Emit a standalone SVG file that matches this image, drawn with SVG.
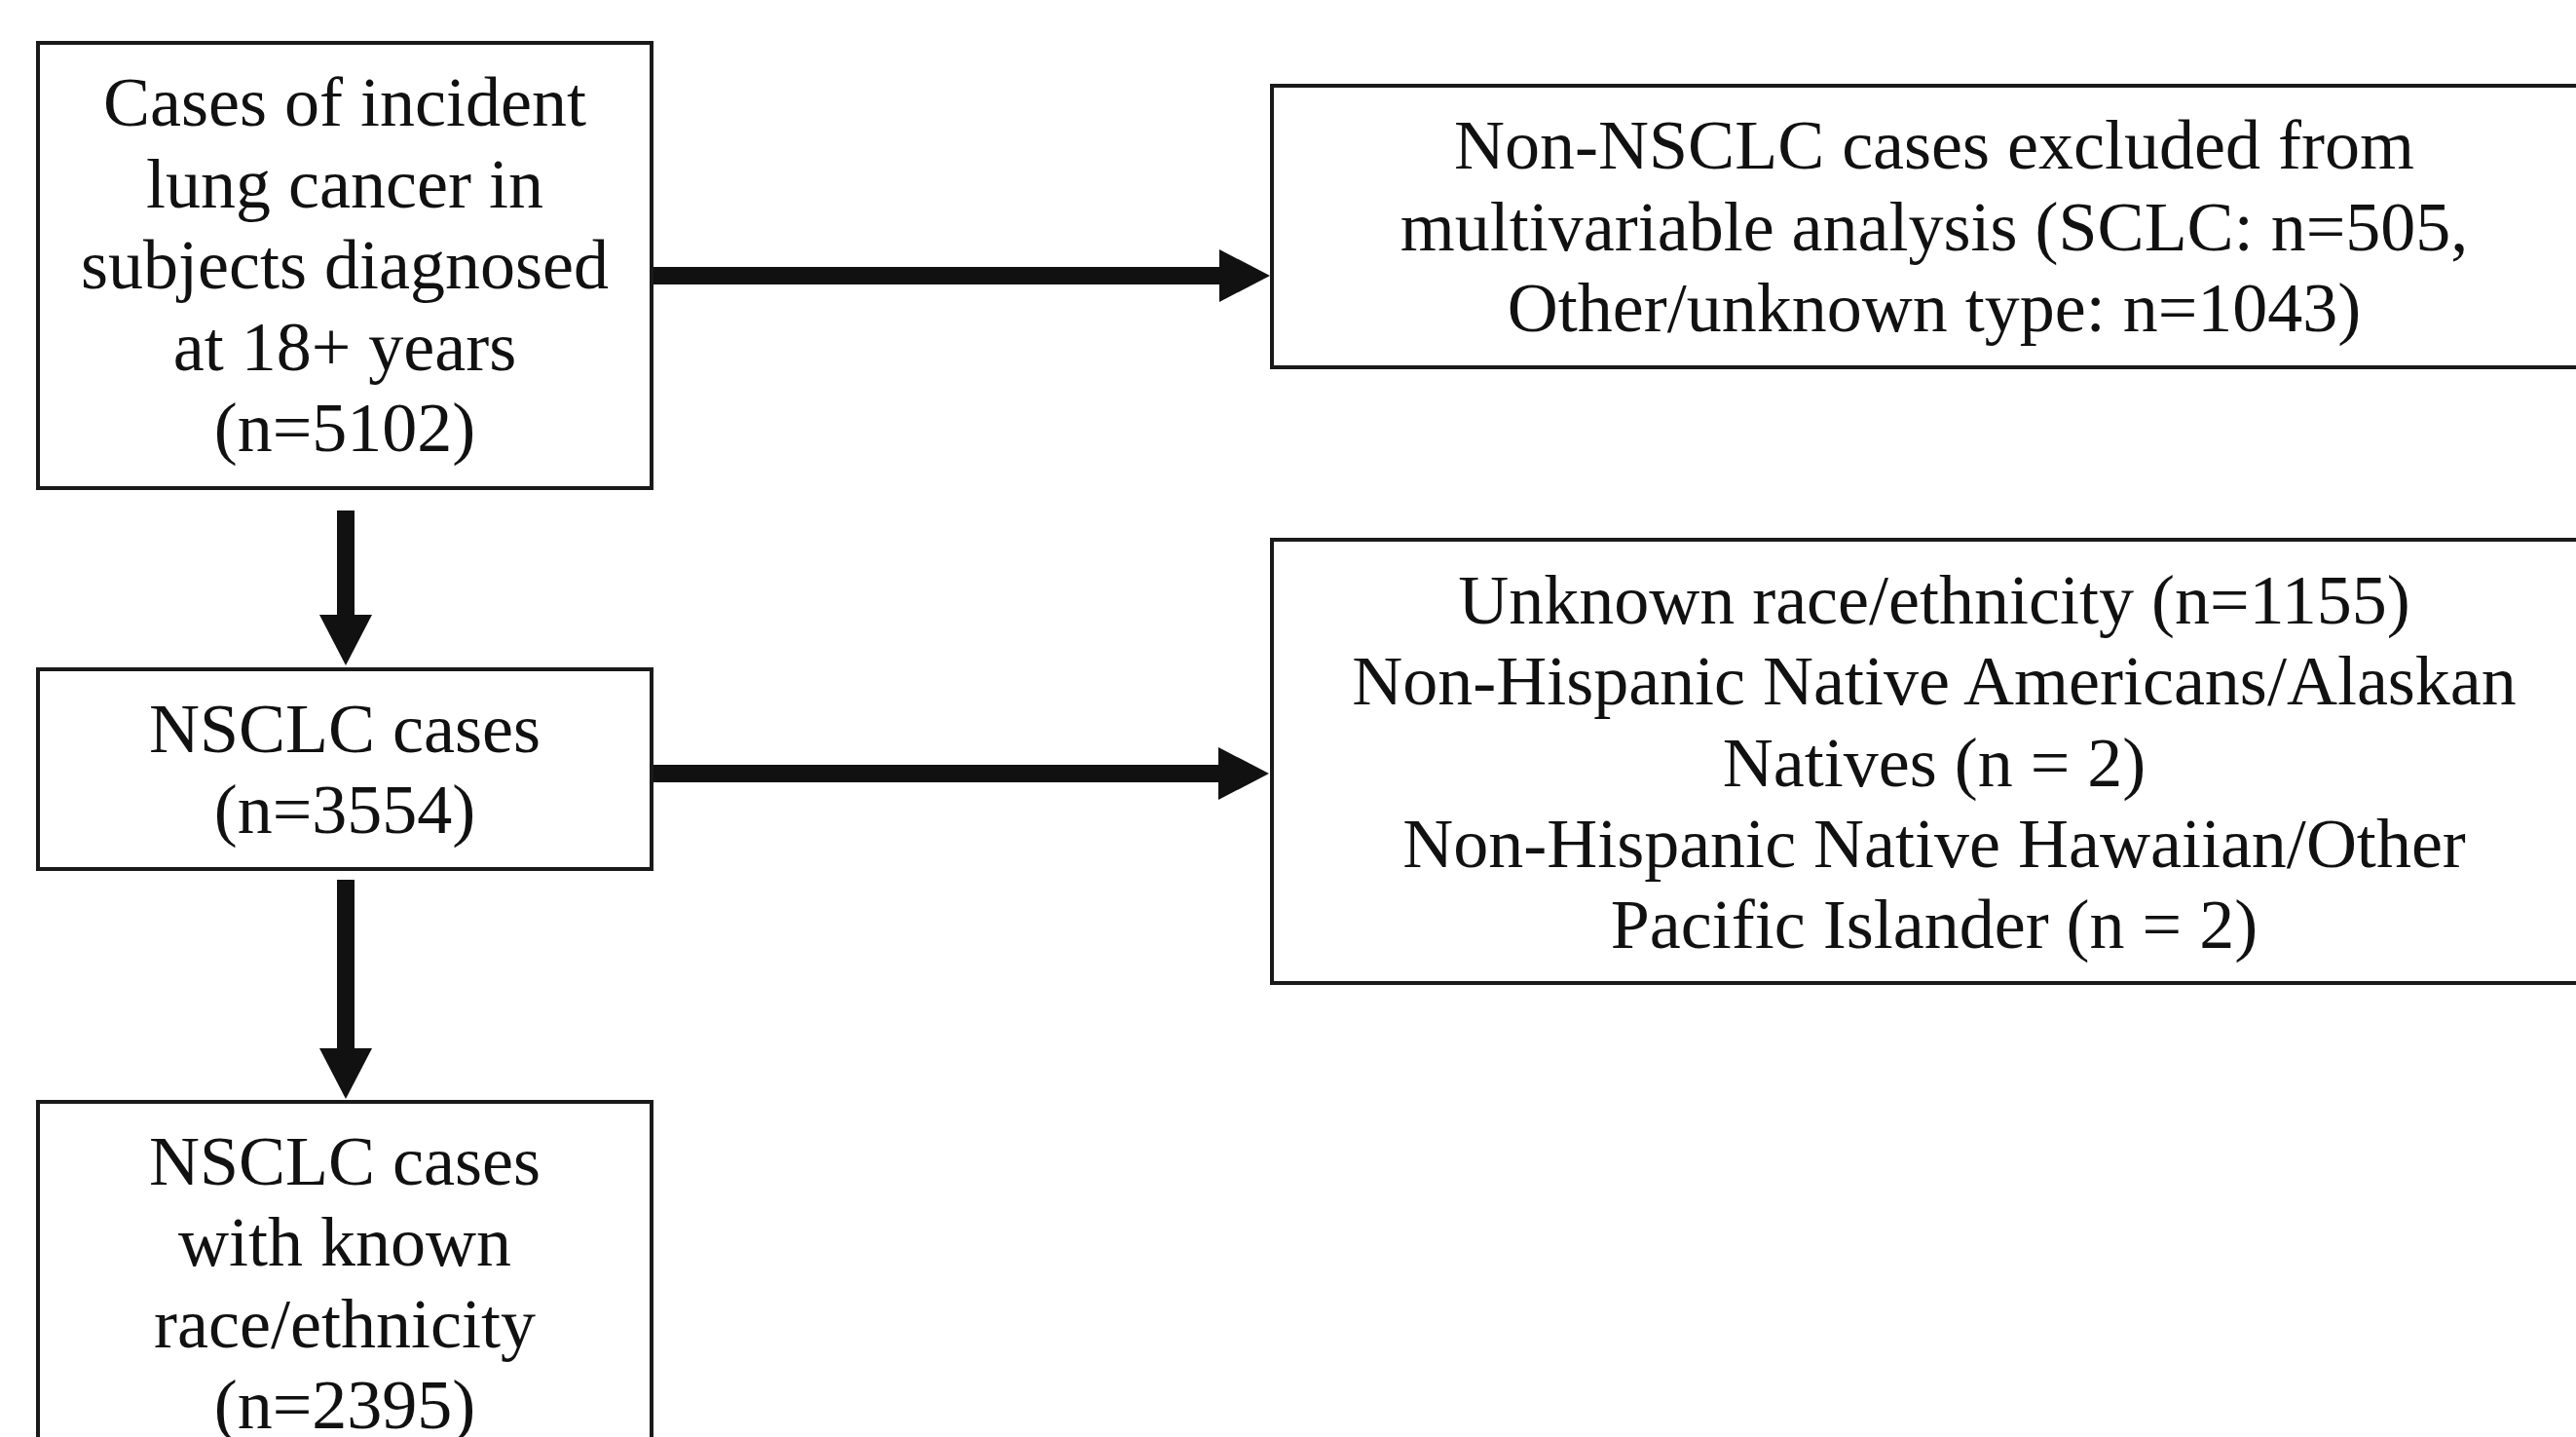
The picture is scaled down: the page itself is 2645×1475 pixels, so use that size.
<svg xmlns="http://www.w3.org/2000/svg" width="2645" height="1475" viewBox="0 0 2645 1475">
<style>
.box{fill:#fff;stroke:#1a1a1a;stroke-width:4}
.t{font-family:"Liberation Serif","Times New Roman",serif;font-size:72px;fill:#111;text-anchor:middle}
.arr{stroke:#111;stroke-width:18;fill:none;marker-end:url(#head)}
</style>
<defs>
<marker id="head" markerUnits="userSpaceOnUse" markerWidth="52" markerHeight="54" refX="0" refY="27" orient="auto">
<path d="M0,0 L52,27 L0,54 Z" fill="#111"/>
</marker>
</defs>
<rect width="2645" height="1475" fill="#fff"/>
<g id="connectors">
<line class="arr" x1="670" y1="283" x2="1252" y2="283"/>
<line class="arr" x1="670" y1="794" x2="1251" y2="794"/>
<line class="arr" x1="355" y1="524" x2="355" y2="631"/>
<line class="arr" x1="355" y1="903" x2="355" y2="1076"/>
</g>
<g id="n1">
<rect class="box" x="39" y="44" width="630" height="457"/>
<text class="t" x="354" y="129">Cases of incident</text>
<text class="t" x="354" y="212.5">lung cancer in</text>
<text class="t" x="354" y="296">subjects diagnosed</text>
<text class="t" x="354" y="379.5">at 18+ years</text>
<text class="t" x="354" y="463">(n=5102)</text>
</g>
<g id="n2">
<rect class="box" x="39" y="687" width="630" height="205"/>
<text class="t" x="354" y="772">NSCLC cases</text>
<text class="t" x="354" y="855">(n=3554)</text>
</g>
<g id="n3">
<rect class="box" x="39" y="1131" width="630" height="400"/>
<text class="t" x="354" y="1216">NSCLC cases</text>
<text class="t" x="354" y="1299">with known</text>
<text class="t" x="354" y="1383">race/ethnicity</text>
<text class="t" x="354" y="1466">(n=2395)</text>
</g>
<g id="n4">
<rect class="box" x="1306" y="88" width="1400" height="289"/>
<text class="t" x="1986" y="173">Non-NSCLC cases excluded from</text>
<text class="t" x="1986" y="257">multivariable analysis (SCLC: n=505,</text>
<text class="t" x="1986" y="340">Other/unknown type: n=1043)</text>
</g>
<g id="n5">
<rect class="box" x="1306" y="554" width="1400" height="455"/>
<text class="t" x="1986" y="640">Unknown race/ethnicity (n=1155)</text>
<text class="t" x="1986" y="723">Non-Hispanic Native Americans/Alaskan</text>
<text class="t" x="1986" y="807">Natives (n = 2)</text>
<text class="t" x="1986" y="890">Non-Hispanic Native Hawaiian/Other</text>
<text class="t" x="1986" y="973">Pacific Islander (n = 2)</text>
</g>
</svg>
